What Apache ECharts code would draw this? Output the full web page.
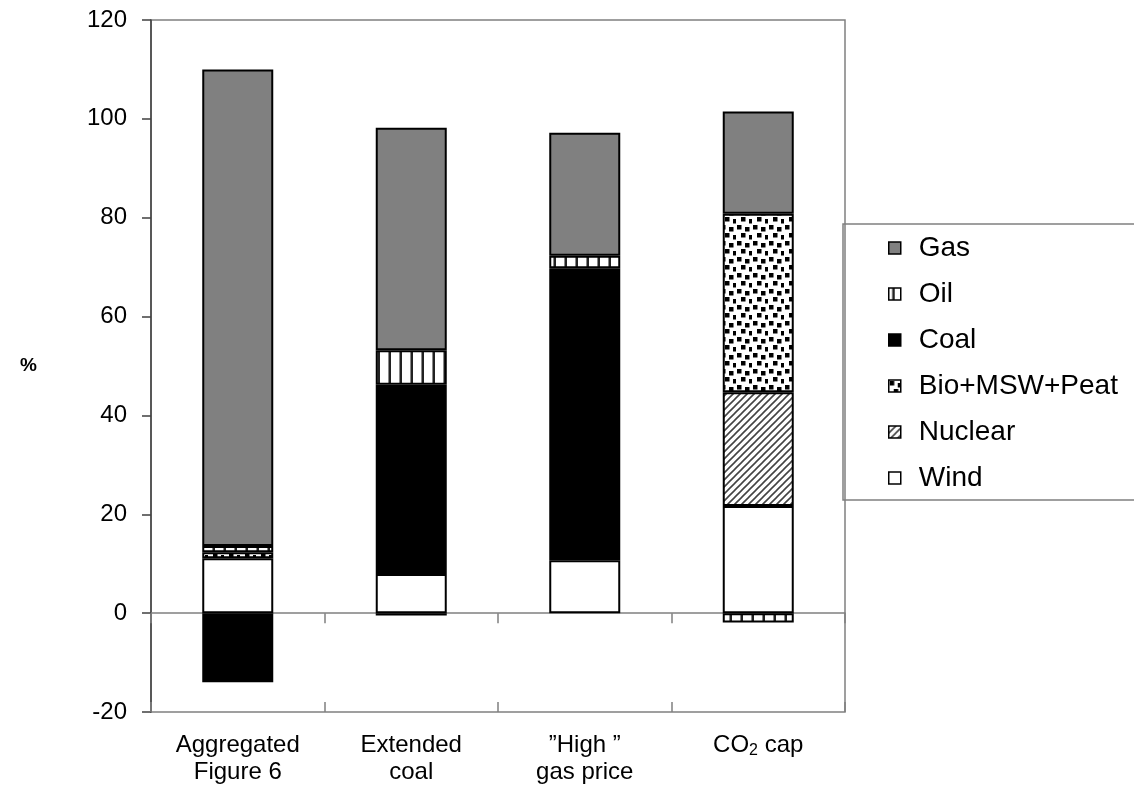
<!DOCTYPE html>
<html>
<head>
<meta charset="utf-8">
<script src="https://cdn.jsdelivr.net/npm/echarts@6/dist/echarts.min.js"></script>
<style>
  html, body { margin: 0; padding: 0; background: #fff; }
  #chart { width: 1134px; height: 808px; }
</style>
</head>
<body>
<div id="chart"></div>
<script>
// Scenario categories and change in electricity generation by source (%)
const categories = ['Aggregated\nFigure 6', 'Extended\ncoal', '\u201DHigh \u201D\ngas price', 'CO\u2082 cap'];
const wind    = [11.1, 7.9, 10.7, 21.7];
const nuclear = [null, null, null, 23.0];
const bio     = [1.2, -0.5, null, 36.1];
const coal    = [-14.0, 38.3, 59.1, null];
const oil     = [1.3, 7.0, 2.5, -1.9];
const gas     = [96.4, 45.0, 24.9, 20.7];
const yTicks  = { min: -20, max: 120, step: 20 };

const FONT = '"Liberation Sans", Arial, sans-serif';

// Fill patterns for the hatched sources
function makeTile(w, h, draw) {
  const c = document.createElement('canvas');
  c.width = w; c.height = h;
  const g = c.getContext('2d');
  g.fillStyle = '#fff';
  g.fillRect(0, 0, w, h);
  draw(g);
  return c;
}
const oilTile = makeTile(11, 11, g => {
  g.fillStyle = '#222';
  g.fillRect(4, 0, 2, 11);
  g.fillStyle = '#888';
  g.fillRect(3, 0, 1, 11);
});
const bioTile = makeTile(16, 16, g => {
  g.fillStyle = '#000';
  [[1, 1], [9, 3], [5, 9], [13, 11]].forEach(p => {
    g.fillRect(p[0], p[1], 4.5, 4.5);
  });
});
const nuclearTile = makeTile(7, 7, g => {
  g.strokeStyle = '#444';
  g.lineWidth = 1.6;
  g.beginPath();
  g.moveTo(-1, 8); g.lineTo(8, -1);
  g.moveTo(-1, 1); g.lineTo(1, -1);
  g.moveTo(6, 8); g.lineTo(8, 6);
  g.stroke();
});
const pattern = tile => ({ image: tile, repeat: 'repeat' });

const border = { borderColor: '#000', borderWidth: 2 };
function bar(name, data, color) {
  return {
    name, type: 'bar', stack: 'mix', data,
    barWidth: 71,
    xAxisIndex: 0,
    itemStyle: Object.assign({ color }, border),
    emphasis: { disabled: true }
  };
}

const chart = echarts.init(document.getElementById('chart'), null, { renderer: 'canvas' });
chart.setOption({
  animation: false,
  backgroundColor: '#fff',
  grid: {
    left: 151, right: 289, top: 20, bottom: 96,
    show: true, borderColor: '#808080', borderWidth: 1.5, backgroundColor: 'transparent'
  },
  legend: {
    orient: 'vertical',
    left: 843, top: 224,
    padding: [9, 40, 7, 45],
    itemWidth: 12, itemHeight: 12,
    itemGap: 16,
    borderColor: '#808080', borderWidth: 1.5,
    icon: 'rect',
    itemStyle: { borderColor: '#000', borderWidth: 1.5 },
    data: ['Gas', 'Oil', 'Coal', 'Bio+MSW+Peat', 'Nuclear', 'Wind'],
    textStyle: { fontFamily: FONT, fontSize: 28, lineHeight: 30, color: '#000', padding: [0, 0, 0, 13] },
    selectedMode: false
  },
  xAxis: [
    {
      // category labels below the plot frame
      type: 'category', data: categories, position: 'bottom',
      axisLine: { show: false, onZero: false },
      axisTick: { show: false },
      axisLabel: {
        interval: 0, margin: 20, fontFamily: FONT, fontSize: 24, color: '#000', lineHeight: 27,
        formatter: v => v.replace('\u2082', '{sub|2}'),
        rich: { sub: { fontFamily: FONT, fontSize: 16, color: '#000', padding: [10, 0, 0, 0] } }
      }
    },
    {
      // zero line with downward ticks between categories
      type: 'category', data: categories, position: 'bottom',
      axisLine: { show: true, onZero: true, lineStyle: { color: '#808080', width: 1.5 } },
      axisTick: { show: true, length: 10, lineStyle: { color: '#808080', width: 1.5 } },
      axisLabel: { show: false }
    },
    {
      // upward half of the cross ticks
      type: 'category', data: categories, position: 'bottom',
      axisLine: { show: false, onZero: true },
      axisTick: { show: true, inside: true, length: 10, lineStyle: { color: '#808080', width: 1.5 } },
      axisLabel: { show: false }
    }
  ],
  yAxis: {
    type: 'value', min: yTicks.min, max: yTicks.max, interval: yTicks.step,
    name: '%', nameLocation: 'middle', nameRotate: 0, nameGap: 114,
    nameTextStyle: { fontFamily: FONT, fontSize: 19, fontWeight: 'bold', color: '#000' },
    axisLine: { show: true, lineStyle: { color: '#404040', width: 1.5 } },
    axisTick: { show: true, length: 9, lineStyle: { color: '#404040', width: 1.5 } },
    axisLabel: { margin: 24, fontFamily: FONT, fontSize: 24, color: '#000' },
    splitLine: { show: false }
  },
  series: [
    bar('Wind', wind, '#fff'),
    bar('Nuclear', nuclear, pattern(nuclearTile)),
    bar('Bio+MSW+Peat', bio, pattern(bioTile)),
    bar('Coal', coal, '#000'),
    bar('Oil', oil, pattern(oilTile)),
    bar('Gas', gas, '#808080')
  ]
});
</script>
</body>
</html>
